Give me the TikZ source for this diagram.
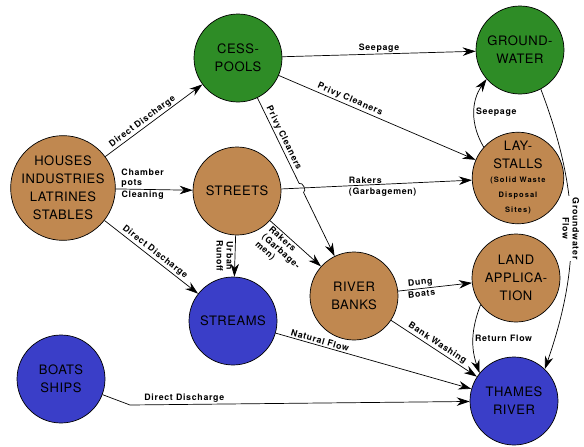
\documentclass[tikz,border=0pt]{standalone}
\usepackage{fontspec}
\setmainfont{TeX Gyre Heros}
\newfontfamily\sitefont[LetterSpace=4]{TeX Gyre Heros}
\newfontfamily\flowfont[LetterSpace=8]{TeX Gyre Heros}
\newfontfamily\tagfam[LetterSpace=14]{TeX Gyre Heros}
\usetikzlibrary{arrows.meta,calc}
\definecolor{cessgreen}{RGB}{46,140,38}
\definecolor{soilbrown}{RGB}{192,136,80}
\definecolor{waterblue}{RGB}{58,62,200}
\newcommand{\tagfont}{\tagfam\bfseries\fontsize{7.5}{10}\selectfont}

\begin{document}
\begin{tikzpicture}[x=1pt,y=1pt,
  site/.style={circle,draw,line width=0.7pt,minimum size=88pt,inner sep=0pt,align=center,
    font=\sitefont\fontsize{13}{18}\selectfont},
  wet/.style={site,fill=cessgreen},
  dry/.style={site,fill=soilbrown},
  sink/.style={site,fill=waterblue},
  flow/.style={-{Stealth[length=13pt,width=8.5pt]},line width=0.7pt},
  lbl/.style={font=\flowfont\bfseries\fontsize{8.8}{10}\selectfont,inner sep=1.5pt}]
\useasboundingbox (0,0) rectangle (584,-447);
% London waste pathways
\node[dry,minimum size=104pt] (houses) at (63,-188) {HOUSES\\INDUSTRIES\\LATRINES\\STABLES};
\node[wet] (cesspools) at (238,-58) {CESS-\\POOLS};
\node[wet] (groundwater) at (520,-50) {GROUND-\\WATER};
\node[dry] (streets) at (237,-191) {STREETS};
\node[dry] (laystalls) at (518,-178) {LAY-\\STALLS\\[-4pt]{\tagfont(Solid Waste}\\[-3pt]{\tagfont Disposal}\\[-3pt]{\tagfont Sites)}};
\node[dry] (landapp) at (516,-278) {LAND\\APPLICA-\\TION};
\node[dry] (riverbanks) at (354,-296) {RIVER\\BANKS};
\node[sink] (streams) at (233,-321) {STREAMS};
\node[sink] (boats) at (61,-379) {BOATS\\SHIPS};
\node[sink] (thames) at (514,-401) {THAMES\\RIVER};

\coordinate (hopa) at ($(cesspools)!0.527!(riverbanks)$);
\coordinate (hopb) at ($(cesspools)!0.565!(riverbanks)$);
\coordinate (dock) at (130,-405);

\draw[flow] (houses) -- (cesspools) node[lbl,pos=0.42,above,sloped] {Direct Discharge};
\draw[flow] (houses) -- (streets) node[lbl,pos=0.35,above,align=left] {Chamber\\pots}
  node[lbl,pos=0.35,below] {Cleaning};
\draw[flow] (houses) -- (streams) node[lbl,midway,above,sloped] {Direct Discharge};
\draw[flow] (cesspools) -- (groundwater) node[lbl,midway,above] {Seepage};
\draw[flow] (cesspools) -- (laystalls) node[lbl,pos=0.35,above,sloped] {Privy Cleaners};
\draw[flow] (streets) -- (laystalls) node[lbl,pos=0.345,anchor=south west] {Rakers}
  node[lbl,pos=0.345,anchor=north west] {(Garbagemen)};
\draw[flow] (cesspools) -- node[lbl,midway,above,sloped] {Privy Cleaners} (hopa)
  to[out=26,in=26] (hopb) -- (riverbanks);
\draw[flow] (streets) -- (streams) node[lbl,midway,rotate=-90,anchor=north,align=center] {Urban\\Runoff};
\draw[flow] (streets) -- (riverbanks) node[lbl,pos=0.42,below,sloped,align=left] {Rakers\\(Garbage-\\men)};
\draw[flow] (riverbanks) -- (landapp) node[lbl,pos=0.31,above,sloped] {Dung}
  node[lbl,pos=0.31,below,sloped] {Boats};
\draw[flow] (riverbanks) -- (thames) node[lbl,midway,above,sloped] {Bank Washing};
\draw[flow] (streams) -- (thames) node[lbl,pos=0.22,above,sloped] {Natural Flow};
\draw[flow] (boats) -- (dock) -- (thames) node[lbl,pos=0.16,above] {Direct Discharge};
\draw[flow] (laystalls.138) to[bend left=33] node[lbl,midway,right] {Seepage} (groundwater.221);
\draw[flow] (groundwater.-62) to[bend left=20]
  node[lbl,midway,rotate=-90,fill=white,align=center] {Groundwater\\Flow} (thames.46);
\draw[flow] (landapp.217) to[bend right=20] node[lbl,midway,right] {Return Flow} (thames.141);
\end{tikzpicture}
\end{document}
